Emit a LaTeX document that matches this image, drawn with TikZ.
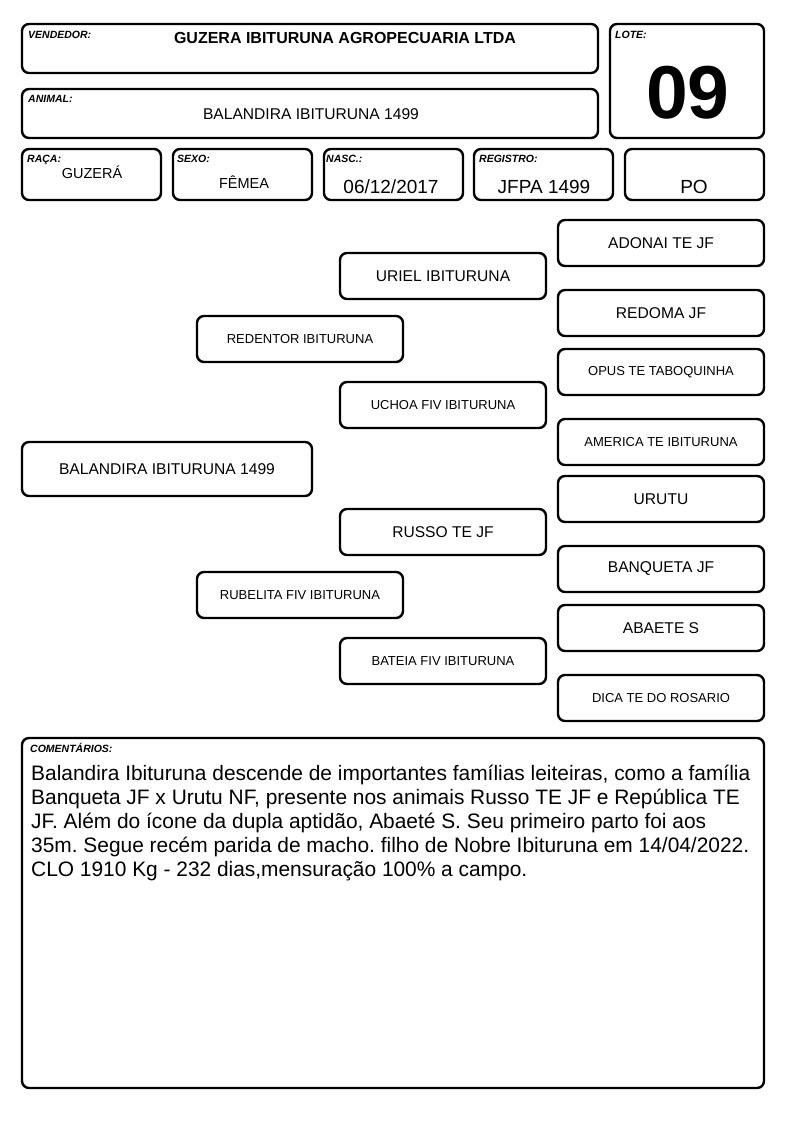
\documentclass[tikz,border=0pt]{standalone}
\usepackage{fontspec}
\setmainfont{Liberation Sans}
\frenchspacing
\newcommand\myS{\fontsize{13}{15}\selectfont}
\newcommand\myM{\fontsize{15.6}{18}\selectfont}
\newcommand\myL{\fontsize{19}{22}\selectfont}
\begin{document}
\begin{tikzpicture}[x=1pt,y=-1pt,
  box/.style={draw, line width=2.4pt, rounded corners=7pt, inner sep=0pt},
  lbl/.style={inner sep=0pt, anchor=base west, font=\fontsize{10.5}{12}\selectfont\bfseries\itshape},
  txt/.style={inner sep=0pt, anchor=base},
  gen2/.style={box, minimum width=206pt, minimum height=46pt, font=\myS},
  gen3/.style={box, minimum width=206pt, minimum height=46pt},
  gen4/.style={box, minimum width=206pt, minimum height=46pt}]
\useasboundingbox (0,0) rectangle (794,1123);
% header
\node[box, minimum width=576pt, minimum height=49pt] (vend) at (310,48.5) {};
\node[box, minimum width=154pt, minimum height=114pt] (lote) at (687,81) {};
\node[box, minimum width=576pt, minimum height=49pt] (anim) at (310,113.5) {};
\node[box, minimum width=139pt, minimum height=51pt] (raca) at (91.5,174.5) {};
\node[box, minimum width=139pt, minimum height=51pt] (sexo) at (242.5,174.5) {};
\node[box, minimum width=139pt, minimum height=51pt] (nasc) at (393.5,174.5) {};
\node[box, minimum width=139pt, minimum height=51pt] (reg) at (543.5,174.5) {};
\node[box, minimum width=139pt, minimum height=51pt] (po) at (694.5,174.5) {};
\node[lbl] (lvend) at (28,39) {VENDEDOR:};
\node[lbl] (llote) at (615,39) {LOTE:};
\node[lbl] (lanim) at (28,103) {ANIMAL:};
\node[lbl] (lraca) at (27,163) {RAÇA:};
\node[lbl] (lsexo) at (177,163) {SEXO:};
\node[lbl] (lnasc) at (326,163) {NASC.:};
\node[lbl] (lreg) at (479,163) {REGISTRO:};
\node[txt, font=\fontsize{16}{18}\selectfont\bfseries] (tvend) at (345,43.3) {GUZERA IBITURUNA AGROPECUARIA LTDA};
\node[txt, font=\fontsize{75}{85}\selectfont\bfseries] (tlote) at (688,119) {09};
\node[txt, font=\myM] (tanim) at (311,119.3) {BALANDIRA IBITURUNA 1499};
\node[txt, font=\fontsize{14.5}{17}\selectfont] (traca) at (92,178.3) {GUZERÁ};
\node[txt, font=\fontsize{14.5}{17}\selectfont] (tsexo) at (244,189) {FÊMEA};
\node[txt, font=\myL] (tnasc) at (391,194) {06/12/2017};
\node[txt, font=\myL] (treg) at (544,194) {JFPA 1499};
\node[txt, font=\myL] (tpo) at (694,194) {PO};
% pedigree
\node[box, minimum width=290pt, minimum height=54pt, font=\myM] (animal) at (167,469) {BALANDIRA IBITURUNA 1499};
\node[gen2] (sire) at (300,339) {REDENTOR IBITURUNA};
\node[gen2] (dam) at (300,595) {RUBELITA FIV IBITURUNA};
\node[gen3, font=\myM] (ss) at (443,276) {URIEL IBITURUNA};
\node[gen3, font=\myS] (sd) at (443,405) {UCHOA FIV IBITURUNA};
\node[gen3, font=\myM] (ds) at (443,532) {RUSSO TE JF};
\node[gen3, font=\myS] (dd) at (443,661) {BATEIA FIV IBITURUNA};
\node[gen4, font=\myM] (sss) at (661,243) {ADONAI TE JF};
\node[gen4, font=\myM] (ssd) at (661,313) {REDOMA JF};
\node[gen4, font=\myS] (sds) at (661,372) {OPUS TE TABOQUINHA};
\node[gen4, font=\myS] (sdd) at (661,442) {AMERICA TE IBITURUNA};
\node[gen4, font=\myM] (dss) at (661,499) {URUTU};
\node[gen4, font=\myM] (dsd) at (661,569) {BANQUETA JF};
\node[gen4, font=\myM] (dds) at (661,628) {ABAETE S};
\node[gen4, font=\myS] (ddd) at (661,698) {DICA TE DO ROSARIO};
% comments
\node[box, minimum width=742pt, minimum height=350pt] (com) at (393,913) {};
\node[lbl] (lcom) at (30,752.5) {COMENTÁRIOS:};
\node[inner sep=0pt, anchor=base west] (tcom) at (31,780.5) {\parbox[t]{735pt}{\fontsize{20.9}{24}\selectfont\raggedright\frenchspacing
Balandira Ibituruna descende de importantes famílias leiteiras, como a família\\
Banqueta JF x Urutu NF, presente nos animais Russo TE JF e República TE\\
JF. Além do ícone da dupla aptidão, Abaeté S. Seu primeiro parto foi aos\\
35m. Segue recém parida de macho. filho de Nobre Ibituruna em 14/04/2022.\\
CLO 1910 Kg - 232 dias,mensuração 100\% a campo.}};
\end{tikzpicture}
\end{document}
